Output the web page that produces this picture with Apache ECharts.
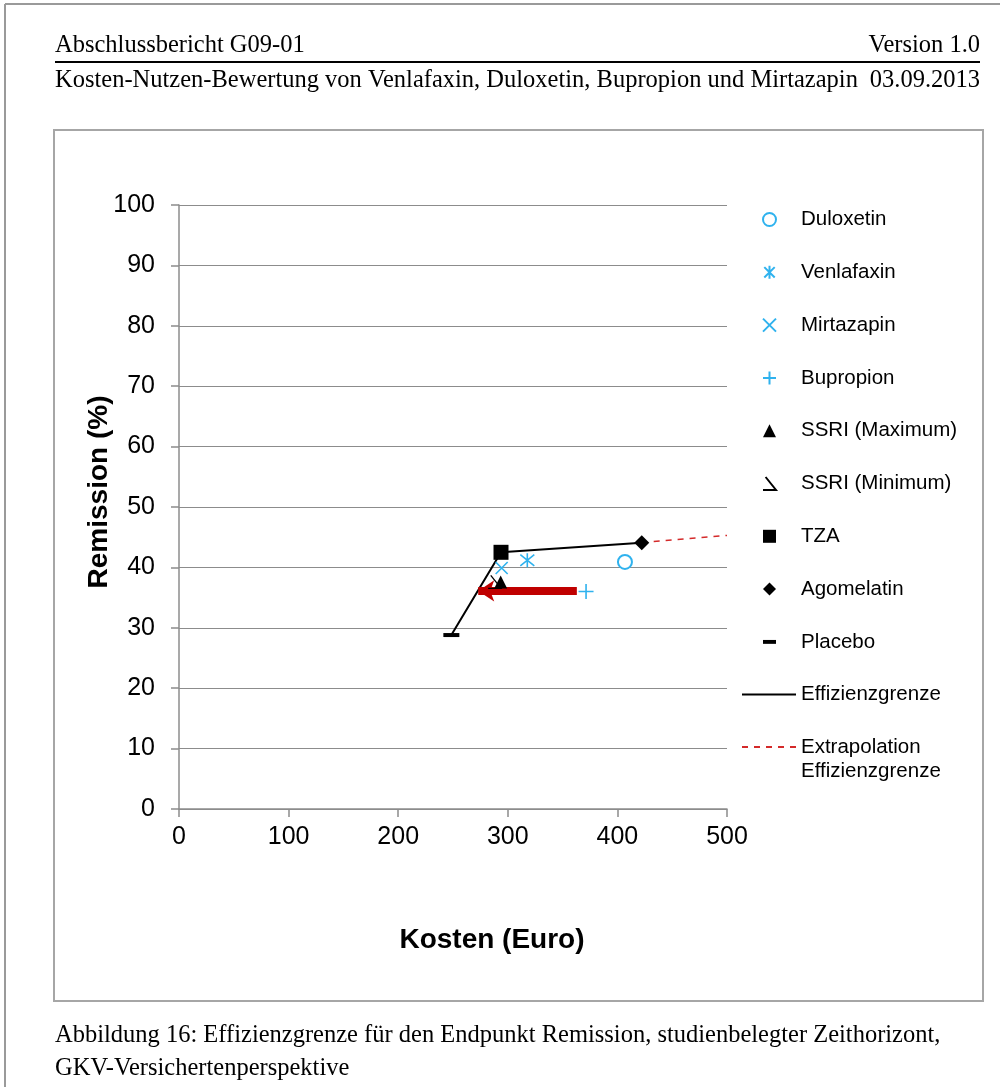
<!DOCTYPE html>
<html>
<head>
<meta charset="utf-8">
<script src="https://cdn.jsdelivr.net/npm/echarts@6/dist/echarts.min.js"></script>
<style>
  html, body { margin: 0; padding: 0; background: #fff; }
  #chart { width: 1000px; height: 1087px; }
</style>
</head>
<body>
<div id="chart"></div>
<script>
// Werte
const drugNames = ['Duloxetin', 'Venlafaxin', 'Mirtazapin', 'Bupropion', 'SSRI (Maximum)', 'SSRI (Minimum)', 'TZA', 'Agomelatin', 'Placebo'];
const drugCost = [406.9, 317.8, 294.4, 371.4, 293.5, 288, 293.8, 422.2, 248.5];
const drugRemission = [40.9, 41.2, 39.9, 36.0, 37.6, 37.6, 42.5, 44.1, 28.8];

const frontierCost = [248.5, 293.8, 422.2];
const frontierRemission = [28.8, 42.5, 44.1];
const extrapolationCost = [422.2, 500];
const extrapolationRemission = [44.1, 45.3];

const arrowCost = [363, 273];
const arrowRemission = [36.1, 36.1];

const xTicks = [0, 100, 200, 300, 400, 500];
const yTicks = [0, 10, 20, 30, 40, 50, 60, 70, 80, 90, 100];

const blue = '#2fb2ee';
const serif = '"Liberation Serif", "Times New Roman", serif';
const sans = '"Liberation Sans", Arial, sans-serif';
const serifFont = '24.5px ' + serif;

// Symbolformen je Präparat
const markerStyle = {
  'Duloxetin': { symbol: 'emptyCircle', size: 14, color: blue, border: blue, bw: 2 },
  'Venlafaxin': { symbol: 'path://M1,1 L9,9 M9,1 L1,9 M5,0 L5,10', size: 14, color: 'none', border: blue, bw: 1.6 },
  'Mirtazapin': { symbol: 'path://M0,0 L10,10 M10,0 L0,10', size: 12, color: 'none', border: blue, bw: 1.6 },
  'Bupropion': { symbol: 'path://M5,0 L5,10 M0,5 L10,5', size: 15, color: 'none', border: blue, bw: 1.6 },
  'SSRI (Maximum)': { symbol: 'triangle', size: 13, color: '#000', border: '#000', bw: 0 },
  'SSRI (Minimum)': { symbol: 'path://M2,0 L10,10 L0,10', size: 13, color: 'none', border: '#000', bw: 1.3 },
  'TZA': { symbol: 'rect', size: 15, color: '#000', border: '#000', bw: 0 },
  'Agomelatin': { symbol: 'diamond', size: 15, color: '#000', border: '#000', bw: 0 },
  'Placebo': { symbol: 'path://M0,0 L10,0 L10,3 L0,3 Z', size: [16, 4], color: '#000', border: '#000', bw: 0 }
};

const chart = echarts.init(document.getElementById('chart'));

const series = [
  {
    name: 'Effizienzgrenze',
    type: 'line',
    data: frontierCost.map((c, i) => [c, frontierRemission[i]]),
    symbol: 'none',
    lineStyle: { color: '#000', width: 2 },
    itemStyle: { color: '#000' },
    z: 2
  },
  {
    name: 'Extrapolation Effizienzgrenze',
    type: 'line',
    data: extrapolationCost.map((c, i) => [c, extrapolationRemission[i]]),
    symbol: 'none',
    lineStyle: { color: '#d42a2a', width: 1.5, type: [6, 6] },
    itemStyle: { color: '#d42a2a' },
    z: 2
  },
  {
    name: 'Pfeil',
    type: 'lines',
    coordinateSystem: 'cartesian2d',
    data: [{ coords: [[arrowCost[0], arrowRemission[0]], [arrowCost[1], arrowRemission[1]]] }],
    symbol: ['none', 'arrow'],
    symbolSize: 16,
    lineStyle: { color: '#c00000', width: 8, opacity: 1 },
    z: 3
  }
];

drugNames.forEach((name, i) => {
  const m = markerStyle[name];
  series.push({
    name: name,
    type: 'scatter',
    data: [[drugCost[i], drugRemission[i]]],
    symbol: m.symbol,
    symbolSize: m.size,
    itemStyle: { color: m.color, borderColor: m.border, borderWidth: m.bw, opacity: 1 },
    z: name === 'SSRI (Minimum)' ? 3 : 4
  });
});

chart.setOption({
  backgroundColor: '#fff',
  animation: false,
  textStyle: { fontFamily: sans },
  grid: { left: 179, right: 273, top: 205, bottom: 278 },
  xAxis: {
    type: 'value',
    min: xTicks[0],
    max: xTicks[xTicks.length - 1],
    interval: 100,
    name: 'Kosten (Euro)',
    nameLocation: 'middle',
    nameGap: 117,
    nameTextStyle: { fontSize: 28, fontWeight: 'bold', color: '#000', fontFamily: sans, padding: [0, 0, 0, 78] },
    axisLine: { show: true, lineStyle: { color: '#8c8c8c', width: 1.5 } },
    axisTick: { show: true, length: 8, lineStyle: { color: '#8c8c8c', width: 1.5 } },
    axisLabel: { fontSize: 25, color: '#000', margin: 16, fontFamily: sans },
    splitLine: { show: false }
  },
  yAxis: {
    type: 'value',
    min: yTicks[0],
    max: yTicks[yTicks.length - 1],
    interval: 10,
    name: 'Remission (%)',
    nameLocation: 'middle',
    nameGap: 66,
    nameMoveOverlap: false,
    nameTextStyle: { fontSize: 28, fontWeight: 'bold', color: '#000', fontFamily: sans, padding: [0, 0, 0, 30] },
    axisLine: { show: true, lineStyle: { color: '#8c8c8c', width: 1.5 } },
    axisTick: { show: true, length: 8, lineStyle: { color: '#8c8c8c', width: 1.5 } },
    axisLabel: { fontSize: 25, color: '#000', margin: 24, fontFamily: sans },
    splitLine: { show: true, lineStyle: { color: '#8c8c8c', width: 1.2 } }
  },
  legend: [
    {
      data: drugNames,
      orient: 'vertical',
      left: 760.5,
      top: 209,
      padding: 0,
      itemWidth: 13,
      itemHeight: 13,
      itemGap: 31.8,
      selectedMode: false,
      textStyle: { fontSize: 20.5, color: '#000', lineHeight: 20, padding: [0, 0, 0, 20], fontFamily: sans }
    },
    {
      data: [{ name: 'Effizienzgrenze', itemStyle: { opacity: 0 } }],
      orient: 'vertical',
      left: 741,
      top: 684,
      padding: 0,
      itemWidth: 54,
      itemHeight: 13,
      selectedMode: false,
      textStyle: { fontSize: 20.5, color: '#000', lineHeight: 20, fontFamily: sans }
    },
    {
      data: [{ name: 'Extrapolation Effizienzgrenze', itemStyle: { opacity: 0 } }],
      formatter: function () { return '\nExtrapolation\nEffizienzgrenze'; },
      orient: 'vertical',
      left: 741,
      top: 711,
      padding: 0,
      itemWidth: 54,
      itemHeight: 13,
      selectedMode: false,
      textStyle: { fontSize: 20.5, color: '#000', lineHeight: 24, fontFamily: sans }
    }
  ],
  graphic: [
    // Seitenrand
    { type: 'line', shape: { x1: 5, y1: 4, x2: 1000, y2: 4 }, style: { stroke: '#9a9a9a', lineWidth: 2 }, silent: true },
    { type: 'line', shape: { x1: 5, y1: 4, x2: 5, y2: 1087 }, style: { stroke: '#9a9a9a', lineWidth: 2 }, silent: true },
    // Kopfzeile
    { type: 'text', left: 55, top: 33, style: { text: 'Abschlussbericht G09-01', font: serifFont, fill: '#000' } },
    { type: 'text', right: 20, top: 33, style: { text: 'Version 1.0', font: serifFont, fill: '#000', textAlign: 'right' } },
    { type: 'line', shape: { x1: 55, y1: 62, x2: 980, y2: 62 }, style: { stroke: '#000', lineWidth: 2 }, silent: true },
    { type: 'text', left: 55, top: 68, style: { text: 'Kosten-Nutzen-Bewertung von Venlafaxin, Duloxetin, Bupropion und Mirtazapin', font: serifFont, fill: '#000' } },
    { type: 'text', right: 20, top: 68, style: { text: '03.09.2013', font: serifFont, fill: '#000', textAlign: 'right' } },
    // Rahmen der Grafik
    { type: 'rect', shape: { x: 54, y: 130, width: 929, height: 871 }, style: { fill: 'none', stroke: '#a6a6a6', lineWidth: 2 }, silent: true, z: -1 },
    // Bildunterschrift
    { type: 'text', left: 55, top: 1023, style: { text: 'Abbildung 16: Effizienzgrenze für den Endpunkt Remission, studienbelegter Zeithorizont,', font: serifFont, fill: '#000' } },
    { type: 'text', left: 55, top: 1056, style: { text: 'GKV-Versichertenperspektive', font: serifFont, fill: '#000' } }
  ],
  series: series
});
</script>
</body>
</html>
